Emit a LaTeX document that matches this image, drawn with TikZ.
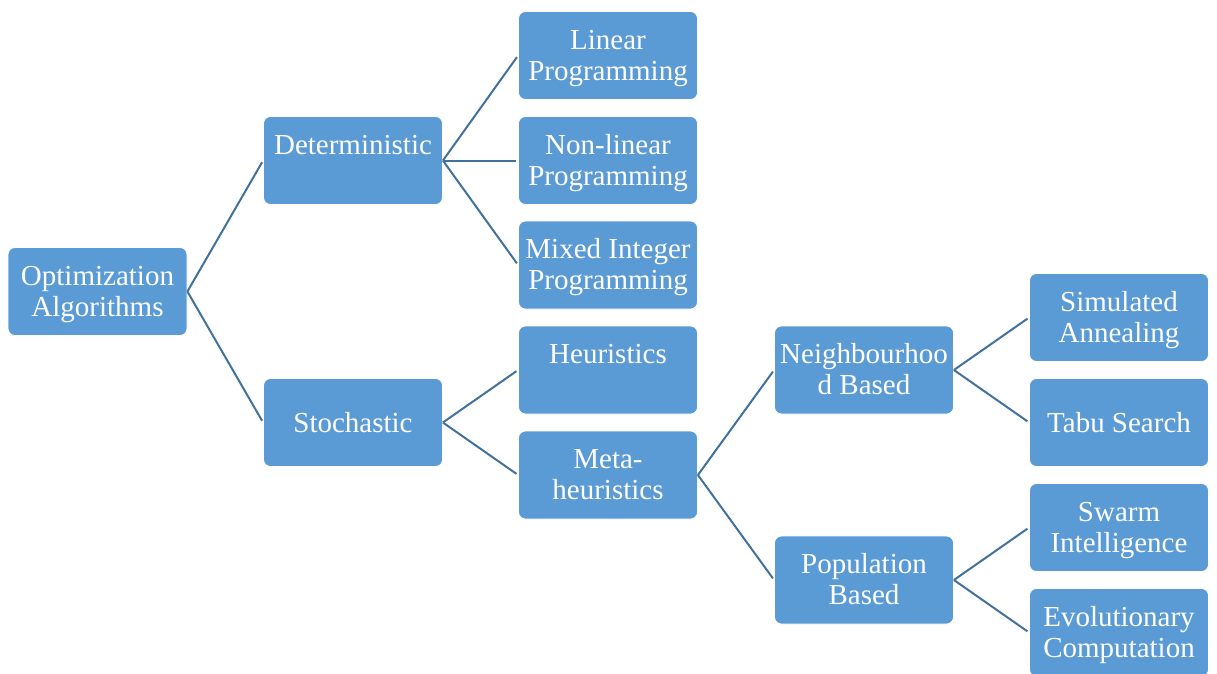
\documentclass[tikz,border=0pt]{standalone}
\usepackage{fontspec}
\setmainfont{Liberation Serif}
\definecolor{boxblue}{HTML}{5B9BD5}
\definecolor{lineblue}{HTML}{41719C}
\tikzset{
  box/.style={rectangle, rounded corners=7pt, fill=boxblue, draw=white, line width=0.8pt,
    minimum width=179pt, minimum height=88pt, inner sep=0pt, align=center,
    text=white, font=\fontsize{29}{31}\selectfont},
  twoline/.style={text height=53pt, text depth=4pt},
  topline/.style={text height=25pt, text depth=38pt},
  link/.style={draw=lineblue, line width=2pt, shorten >=2pt}
}
\begin{document}
\begin{tikzpicture}[x=1pt,y=-1pt]
\useasboundingbox (0,0) rectangle (1217,673);
\node[box,twoline] (opt) at (97.5,291.5) {Optimization\\Algorithms};
\node[box,topline] (det) at (353,160.5) {Deterministic};
\node[box] (sto) at (353,422.5) {Stochastic};
\node[box,twoline] (lin) at (608,55.5) {Linear\\Programming};
\node[box,twoline] (non) at (608,160.5) {Non-linear\\Programming};
\node[box,twoline] (mix) at (608,265) {Mixed Integer\\Programming};
\node[box,topline] (heu) at (608,370) {Heuristics};
\node[box,twoline] (met) at (608,475) {Meta-\\heuristics};
\node[box,twoline] (nei) at (864,370) {Neighbourhoo\\d Based};
\node[box,twoline] (pop) at (864,580) {Population\\Based};
\node[box,twoline] (sim) at (1119,317.5) {Simulated\\Annealing};
\node[box] (tab) at (1119,422.5) {Tabu Search};
\node[box,twoline] (swa) at (1119,527.5) {Swarm\\Intelligence};
\node[box,twoline] (evo) at (1119,632.5) {Evolutionary\\Computation};
\foreach \p/\c in {opt/det, opt/sto, det/lin, det/non, det/mix, sto/heu, sto/met,
  met/nei, met/pop, nei/sim, nei/tab, pop/swa, pop/evo}
  \draw[link] (\p.east) -- (\c.west);
\end{tikzpicture}
\end{document}
